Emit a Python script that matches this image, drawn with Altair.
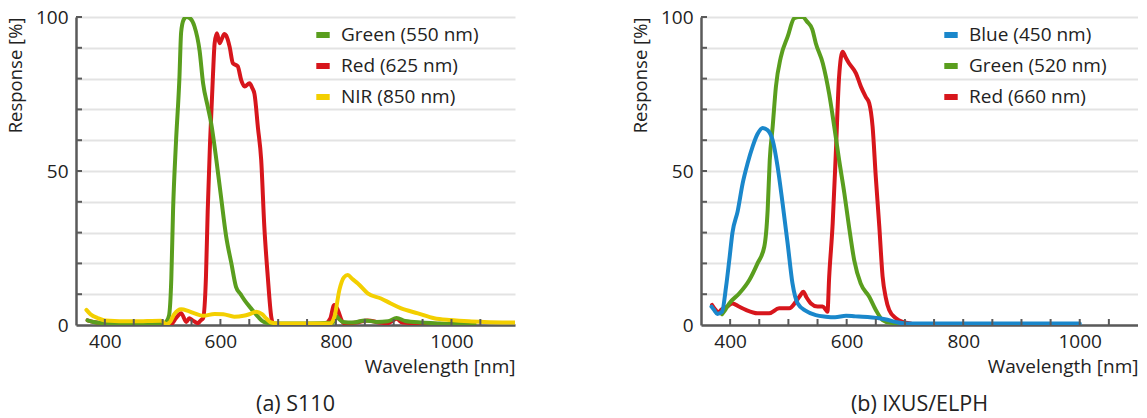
import altair as alt
import pandas as pd

# ---------------- data ----------------
# (a) S110
S110_GREEN_NM = [370, 380, 400, 450, 500, 506, 511, 515, 518, 523, 529, 532, 536, 541, 548, 555, 564, 570,
                 578, 584, 593, 601, 610, 619, 627, 635, 642, 653, 665, 675, 690, 750, 795, 800, 805, 812,
                 830, 850, 870, 890, 905, 920, 950, 980, 1000, 1040]
S110_GREEN_V = [1.5, 1, 0.6, 0.5, 0.5, 1, 3, 15, 37, 59, 80, 95, 99, 100, 99.5, 97, 89, 78.5,
                71, 65.5, 53.6, 41.7, 28.7, 20, 12.4, 10, 8, 5.4, 2.7, 1, 0.5, 0.5, 0.8, 3, 2, 1,
                0.8, 1.5, 1, 1.2, 2.3, 1.3, 0.8, 0.5, 0.3, 0.3]

S110_RED_NM = [370, 380, 400, 500, 515, 523, 532, 541, 546, 552, 561, 566, 570, 575, 578, 582, 587, 590,
               594, 598.6, 602.6, 607, 610, 616, 621.6, 630, 636, 642, 650.5, 655, 659, 665, 670.6, 676,
               682, 688, 692, 780, 790, 797, 803, 810, 815, 835, 855, 875, 890, 905, 915, 950, 1000]
S110_RED_V = [1.5, 1, 0.5, 0.3, 0.3, 2.2, 3.8, 1, 2.2, 1.5, 0.6, 1.5, 2.2, 15.7, 37, 59, 80.6, 91.5,
              94.7, 91.5, 93, 94.5, 94, 90.3, 85, 84, 79.5, 77.4, 78.5, 77, 75, 64, 53.6, 32,
              15.7, 2.7, 0.3, 0.3, 2, 6.5, 5, 1.5, 0.5, 0.8, 1.5, 0.8, 0.6, 2, 0.8, 0.5, 0.3]

S110_NIR_NM = [368, 375, 388, 400, 450, 497, 506, 512, 520, 532, 545, 555, 570, 590, 605, 624, 640, 650,
               662, 672, 680, 688, 700, 790, 797.5, 806, 814, 820.6, 828, 838, 855, 878, 895, 913, 942,
               970, 999, 1030, 1057, 1110]
S110_NIR_V = [4.9, 3.5, 2.2, 1.5, 1.2, 1.4, 0.3, 0.8, 3.5, 5.1, 4.5, 3.8, 3, 3.6, 3.5, 2.7, 3, 3.5,
              4.3, 3.5, 2, 0.8, 0.5, 0.5, 2.7, 11.4, 15.5, 16.2, 15, 13.5, 10.3, 8.6, 7, 5.4, 3.8,
              2.2, 1.6, 1.2, 1, 0.8]

# (b) IXUS/ELPH
IXUS_BLUE_NM = [368, 372, 378, 386, 393, 398.5, 404, 413, 421.5, 430, 438.7, 447, 456, 464, 473, 481.5,
                490, 498.7, 507, 516, 530, 547, 564, 580, 599, 615, 627, 656, 670, 684, 700, 800, 900, 1000]
IXUS_BLUE_V = [6, 5, 3.6, 4.3, 12.4, 21, 30, 37, 46, 52.5, 58, 62, 64, 63.3, 60, 51.4,
               39.5, 26.5, 13.5, 7, 4.6, 3.2, 2.7, 2.5, 3, 2.8, 2.7, 2.2, 1.7, 1, 0.5, 0.5, 0.5, 0.5]

IXUS_GREEN_NM = [386, 392, 398.6, 416, 433, 447, 458.6, 464.4, 468, 473, 478.6, 487, 498.7, 510, 518,
                 524.4, 532, 541, 547, 559, 570, 578.7, 587, 596, 604, 613, 624, 638.7, 650, 661.7, 675, 700]
IXUS_GREEN_V = [3.5, 5, 7, 10.3, 14.6, 20, 25.4, 37.3, 53.6, 64.4, 77.4, 87, 93.6, 99.6, 100,
                100, 98.5, 96, 91.5, 85, 75, 64.4, 53.6, 42.8, 32, 21, 13.5, 9.2, 4.9, 1.6, 0.7, 0.5]

IXUS_RED_NM = [369, 375, 380, 385, 395, 404, 415, 427, 447, 467, 484, 501.5, 513, 520, 525.5, 531, 538.7,
               550, 558.7, 564, 567, 570, 576, 581.6, 587, 593, 598, 604, 616, 624.4, 633, 638.7, 644.5,
               650, 656, 661.7, 667, 673, 684.5, 696, 710]
IXUS_RED_V = [6.5, 4.9, 4, 5, 6, 7, 6, 4.9, 3.8, 3.8, 5.4, 5.4, 7.6, 9.5, 10.8, 9, 7,
              6, 6, 5, 4.3, 15.7, 33, 56.8, 80.6, 88.7, 87, 85, 81.7, 77.4, 74, 72, 64.4,
              48, 32, 15.7, 9, 4.9, 2.2, 1, 0.5]

S110_SERIES = ["Green (550 nm)", "Red (625 nm)", "NIR (850 nm)"]
S110_COLORS = ["#5a9e1e", "#d7161c", "#f3cf00"]
IXUS_SERIES = ["Blue (450 nm)", "Green (520 nm)", "Red (660 nm)"]
IXUS_COLORS = ["#1a87cb", "#5a9e1e", "#d7161c"]

X_LABELS = [400, 600, 800, 1000]
X_TICKS = list(range(400, 1051, 50))
Y_GRID = list(range(0, 101, 10))
Y_TICKS = list(range(10, 101, 10))

FONT = "Open Sans"
H = 308


def frame(series, nms, vals):
    return pd.DataFrame({"series": series, "nm": nms, "pct": vals})


def panel(dfs, series, colors, draw_order, xmax, width, caption, legend_x):
    xs = alt.Scale(domain=[350, xmax], nice=False, zero=False)
    ys = alt.Scale(domain=[0, 100], nice=False)
    xaxis = alt.Axis(values=X_LABELS, format="d", tickSize=0, grid=False, labelPadding=7,
                     labelFontSize=19, labelColor="#222", labelFont=FONT,
                     domainColor="#5a5a5a", domainWidth=2.5,
                     title="Wavelength [nm]", titleAnchor="end", titleFontSize=19,
                     titleFontWeight="normal", titleFont=FONT, titleColor="#222", titlePadding=6)
    yaxis = alt.Axis(values=Y_GRID, labelExpr="datum.value % 50 === 0 ? datum.label : ''",
                     grid=True, gridColor="#e3e3e3", gridWidth=2, tickSize=0,
                     labelPadding=8, labelFontSize=19, labelColor="#222", labelFont=FONT,
                     domainColor="#5a5a5a", domainWidth=2.5,
                     title="Response [%]", titleAnchor="end", titleFontSize=18.5,
                     titleFontWeight="normal", titleFont=FONT, titleColor="#222", titlePadding=10)
    x_enc = alt.X("nm:Q", scale=xs, axis=xaxis)
    y_enc = alt.Y("pct:Q", scale=ys, axis=yaxis)
    cs = alt.Scale(domain=series, range=colors)
    leg = alt.Legend(title=None, orient="none", legendX=legend_x, legendY=8,
                     symbolType="stroke", symbolSize=180, symbolStrokeWidth=6,
                     labelFontSize=19, labelFont=FONT, labelColor="#222", labelOffset=8,
                     rowPadding=7)
    layers = []
    for name in draw_order:
        layers.append(
            alt.Chart(dfs[name]).mark_line(strokeWidth=4, clip=True, interpolate="monotone",
                                           strokeJoin="round", strokeCap="round")
            .encode(x=x_enc, y=y_enc, color=alt.Color("series:N", scale=cs, legend=leg))
        )
    xt = pd.DataFrame({"nm": X_TICKS})
    yt = pd.DataFrame({"pct": Y_TICKS})
    layers.append(alt.Chart(xt).mark_rule(color="#5a5a5a", strokeWidth=2)
                  .encode(x=x_enc, y=alt.value(H), y2=alt.value(H - 6)))
    layers.append(alt.Chart(yt).mark_rule(color="#5a5a5a", strokeWidth=2)
                  .encode(y=y_enc, x=alt.value(0), x2=alt.value(6)))
    return alt.layer(*layers).properties(
        width=width, height=H,
        title=alt.TitleParams(caption, orient="bottom", anchor="middle", fontSize=21.5,
                              fontWeight="normal", font=FONT, color="#222", offset=18),
    )


left_dfs = {
    S110_SERIES[0]: frame(S110_SERIES[0], S110_GREEN_NM, S110_GREEN_V),
    S110_SERIES[1]: frame(S110_SERIES[1], S110_RED_NM, S110_RED_V),
    S110_SERIES[2]: frame(S110_SERIES[2], S110_NIR_NM, S110_NIR_V),
}
right_dfs = {
    IXUS_SERIES[0]: frame(IXUS_SERIES[0], IXUS_BLUE_NM, IXUS_BLUE_V),
    IXUS_SERIES[1]: frame(IXUS_SERIES[1], IXUS_GREEN_NM, IXUS_GREEN_V),
    IXUS_SERIES[2]: frame(IXUS_SERIES[2], IXUS_RED_NM, IXUS_RED_V),
}

left = panel(left_dfs, S110_SERIES, S110_COLORS,
             [S110_SERIES[1], S110_SERIES[0], S110_SERIES[2]], 1110, 439, "(a) S110", 237)
right = panel(right_dfs, IXUS_SERIES, IXUS_COLORS,
              [IXUS_SERIES[2], IXUS_SERIES[1], IXUS_SERIES[0]], 1100, 437, "(b) IXUS/ELPH", 240)

chart = (
    alt.hconcat(left, right, spacing=116)
    .resolve_scale(color="independent")
    .properties(padding={"left": 6, "top": 8, "right": 0, "bottom": 2}, background="white")
    .configure_view(stroke=None)
)

chart.save("out.html", embed_options={"renderer": "svg", "actions": False})
